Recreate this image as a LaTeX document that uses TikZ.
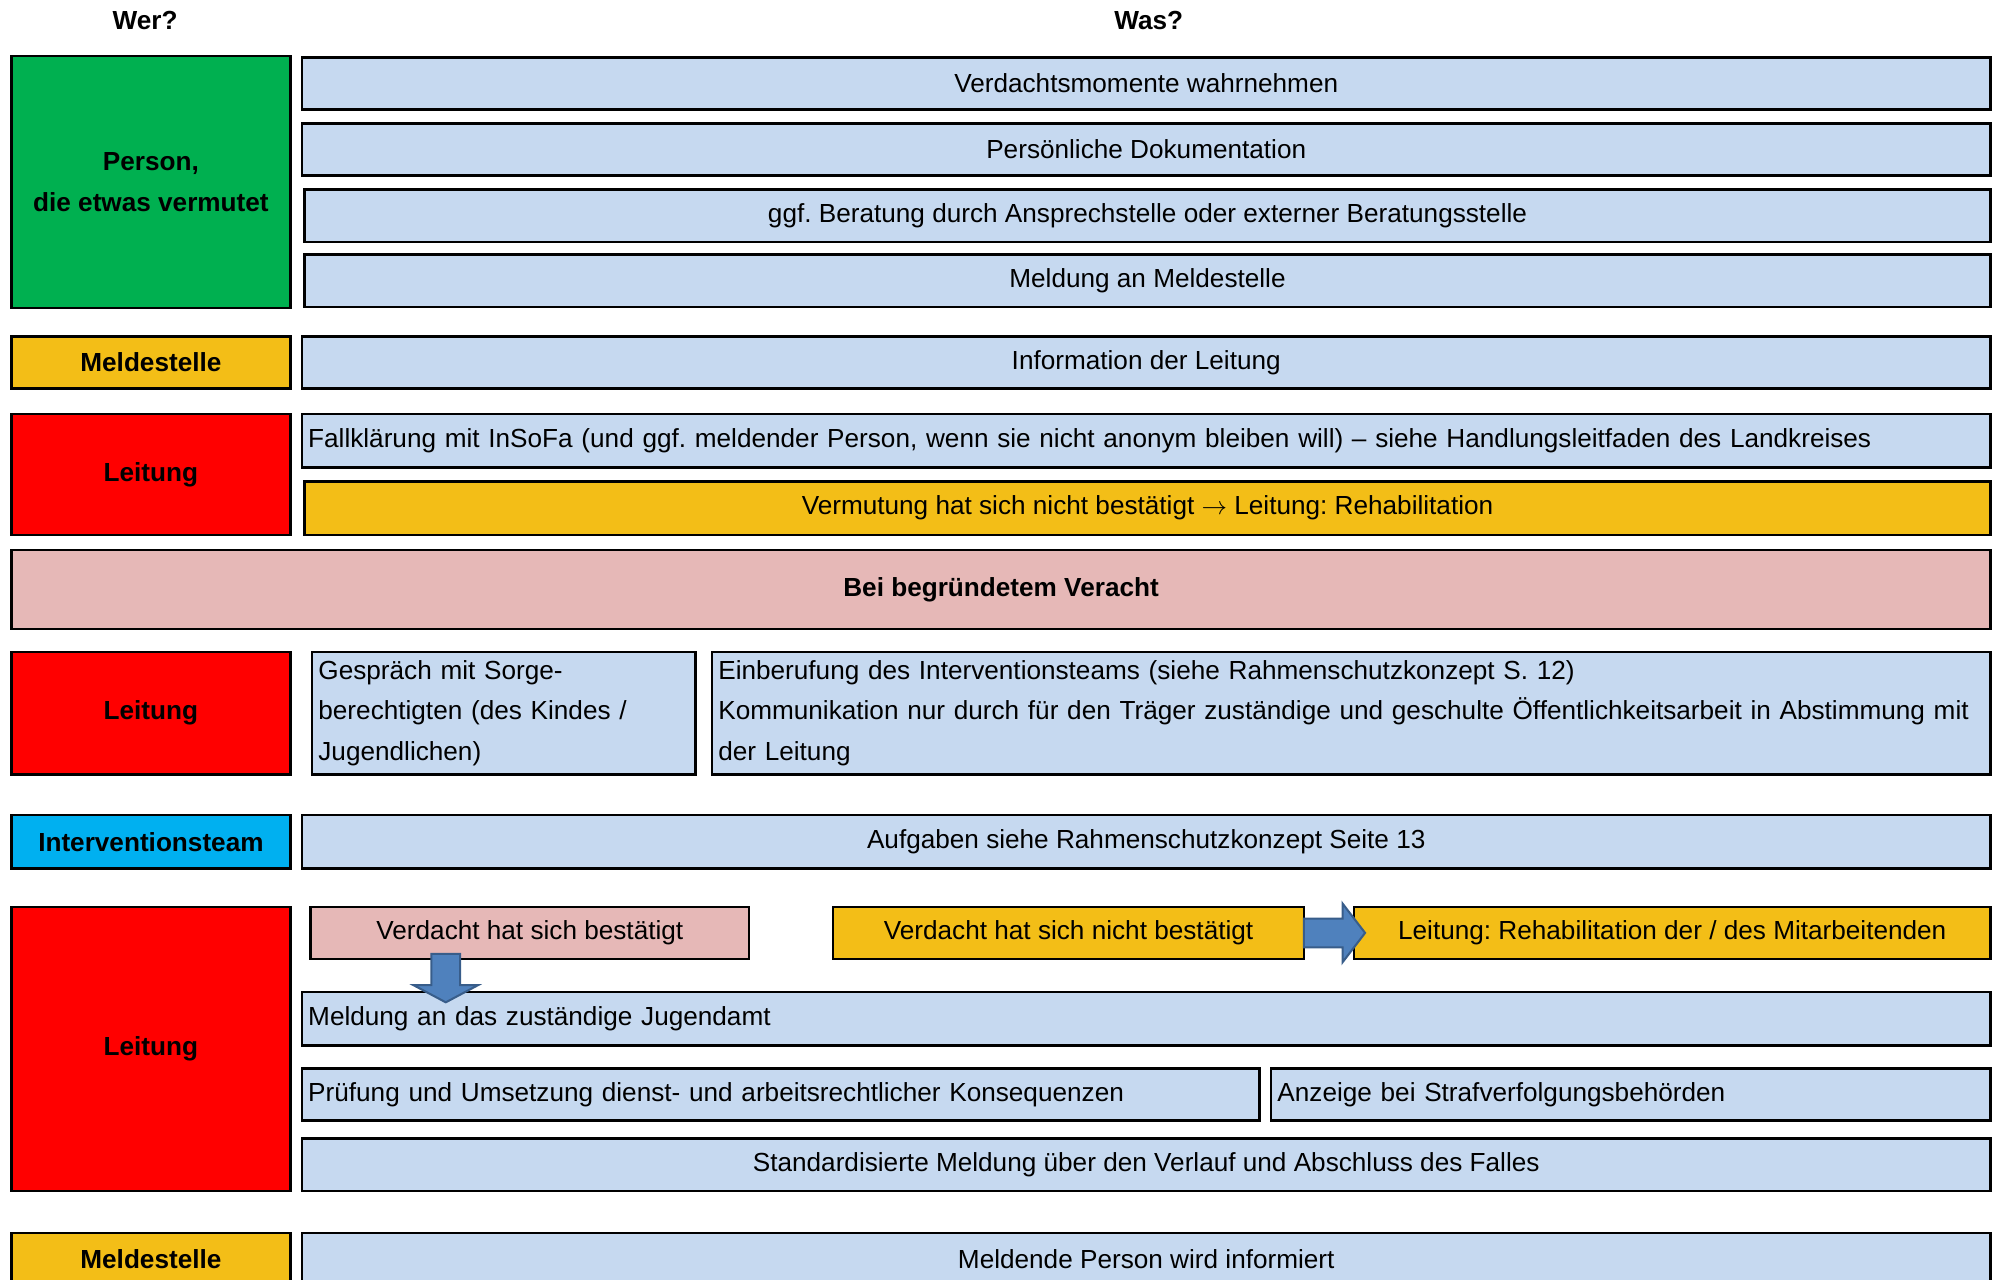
\documentclass[tikz,border=0pt]{standalone}
\usepackage{fontspec}
\setmainfont{Liberation Sans}
\usetikzlibrary{positioning}
\usetikzlibrary{calc}
\usetikzlibrary{shapes.arrows}
\definecolor{wergreen}{HTML}{00B050}
\definecolor{wergelb}{HTML}{F3BE17}
\definecolor{werrot}{HTML}{FF0000}
\definecolor{wercyan}{HTML}{00B0F0}
\definecolor{wasblau}{HTML}{C6D9F0}
\definecolor{rosa}{HTML}{E6B8B7}
\definecolor{pfeilblau}{HTML}{4F81BD}
\definecolor{pfeilrand}{HTML}{385D8A}
\tikzset{
box/.style={ % Sets the properties for each box
draw,
line width=1pt,
anchor=north west,
inner sep=0pt,
inner xsep=2.5pt},
wer/.style={ % Left column: who
box,
font=\bfseries,
align=center,
minimum width=109.5pt},
was/.style={ % Right column: what
box,
fill=wasblau,
align=center},
links/.style={ % Left-aligned text inside a box
align=left,
text width=#1},
blockpfeil/.style={ % Thick blue arrows between boxes
single arrow,
draw=pfeilrand,
fill=pfeilblau,
line width=0.8pt,
inner sep=0pt,
inner ysep=5.25pt,
minimum width=24.5pt,
single arrow head extend=7pt}}
\begin{document}
\frenchspacing
\fontsize{10.27}{16}\selectfont
\begin{tikzpicture}[x=0.5pt,y=-0.5pt]
\useasboundingbox (0,0) rectangle (1568,1005);
\node[font=\bfseries] (wer) at (114,16) {Wer?};
\node[font=\bfseries] (was) at (902,16) {Was?};
% Person, die etwas vermutet
\node[wer, fill=wergreen, minimum height=99pt] (person) at (8,43) {Person,\\die etwas vermutet};
\node[was, minimum width=663pt, minimum height=20.5pt] (a1) at (236,44) {Verdachtsmomente wahrnehmen};
\node[was, minimum width=663pt, minimum height=20.5pt] (a2) at (236,96) {Persönliche Dokumentation};
\node[was, minimum width=662pt, minimum height=20.5pt] (a3) at (238,148) {ggf. Beratung durch Ansprechstelle oder externer Beratungsstelle};
\node[was, minimum width=662pt, minimum height=20.5pt] (a4) at (238,199) {Meldung an Meldestelle};
% Meldestelle
\node[wer, fill=wergelb, minimum height=20.5pt] (melde1) at (8,263) {Meldestelle};
\node[was, minimum width=663pt, minimum height=20.5pt] (b1) at (236,263) {Information der Leitung};
% Leitung
\node[wer, fill=werrot, minimum height=47.5pt] (leitung1) at (8,324) {Leitung};
\node[was, links=658pt, minimum width=663pt, minimum height=21pt] (c1) at (236,324) {Fallklärung mit InSoFa (und ggf. meldender Person, wenn sie nicht anonym bleiben will) – siehe Handlungsleitfaden des Landkreises};
\node[was, fill=wergelb, minimum width=662pt, minimum height=21pt] (c2) at (238,377) {Vermutung hat sich nicht bestätigt $\rightarrow$ Leitung: Rehabilitation};
\node[box, fill=rosa, font=\bfseries, minimum width=777pt, minimum height=31pt] (verdacht) at (8,431) {Bei begründetem Veracht};
% Leitung
\node[wer, fill=werrot, minimum height=48pt] (leitung2) at (8,511) {Leitung};
\node[was, links=145.5pt, minimum width=150.5pt, minimum height=48pt] (d1) at (244,511) {Gespräch mit Sorge-\\berechtigten (des Kindes /\\Jugendlichen)};
\node[was, links=497pt, minimum width=502pt, minimum height=48pt] (d2) at (558,511) {Einberufung des Interventionsteams (siehe Rahmenschutzkonzept S. 12)\\Kommunikation nur durch für den Träger zuständige und geschulte Öffentlichkeitsarbeit in Abstimmung mit\\der Leitung};
% Interventionsteam
\node[wer, fill=wercyan, minimum height=21pt] (team) at (8,639) {Interventionsteam};
\node[was, minimum width=663pt, minimum height=21pt] (e1) at (236,639) {Aufgaben siehe Rahmenschutzkonzept Seite 13};
% Leitung
\node[wer, fill=werrot, minimum height=111.5pt] (leitung3) at (8,711) {Leitung};
\node[was, fill=rosa, minimum width=172pt, minimum height=20.5pt] (f1) at (243,711) {Verdacht hat sich bestätigt};
\node[was, fill=wergelb, minimum width=185pt, minimum height=20.5pt] (f2) at (653,711) {Verdacht hat sich nicht bestätigt};
\node[was, fill=wergelb, minimum width=250pt, minimum height=20.5pt] (f3) at (1062,711) {Leitung: Rehabilitation der / des Mitarbeitenden};
\node[was, links=658pt, minimum width=663pt, minimum height=21pt] (g1) at (236,778) {Meldung an das zuständige Jugendamt};
\node[was, links=371pt, minimum width=376pt, minimum height=20.5pt] (h1) at (236,838) {Prüfung und Umsetzung dienst- und arbeitsrechtlicher Konsequenzen};
\node[was, links=277.5pt, minimum width=282.5pt, minimum height=20.5pt] (h2) at (997,838) {Anzeige bei Strafverfolgungsbehörden};
\node[was, minimum width=663pt, minimum height=20.5pt] (i1) at (236,893) {Standardisierte Meldung über den Verlauf und Abschluss des Falles};
% Meldestelle
\node[wer, fill=wergelb, minimum height=21pt] (melde2) at (8,967) {Meldestelle};
\node[was, minimum width=663pt, minimum height=21pt] (j1) at (236,967) {Meldende Person wird informiert};
% Pfeile
\node[blockpfeil, minimum height=24pt, minimum width=22.25pt, single arrow head extend=5.9pt, single arrow tip angle=105] (pfeil1) at ($(f2.east)!0.5!(f3.west)$) {};
\node[blockpfeil, minimum height=19pt, single arrow tip angle=124, rotate=-90] (pfeil2) at ($(f1.south)+(-66,11)$) {};
\end{tikzpicture}
\end{document}
